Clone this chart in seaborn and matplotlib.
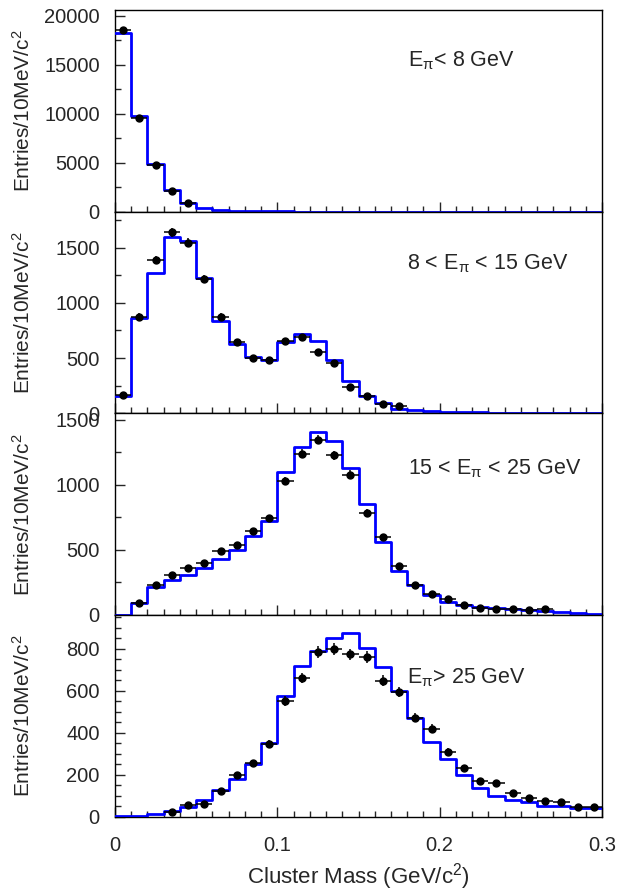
import numpy as np
import pandas as pd
import matplotlib
matplotlib.use("Agg")
import matplotlib.pyplot as plt
from matplotlib.ticker import MultipleLocator
import seaborn as sns

# 30 bins of 10 MeV/c^2 between 0 and 0.3 GeV/c^2
bin_edges = np.round(np.arange(0, 0.301, 0.01), 3)
bin_centers = bin_edges[:-1] + 0.005
nan = np.nan

# E_pi < 8 GeV
mc_lt8 = [18230, 9725, 4867, 2173, 888, 350, 140, 70, 40, 25, 18, 12, 9, 7, 5,
          4, 3, 3, 2, 2, 1, 1, 1, 1, 0, 0, 0, 0, 0, 0]
data_lt8 = [18570, 9560, 4800, 2070, 890] + [nan] * 25

# 8 < E_pi < 15 GeV
mc_8_15 = [161, 866, 1267, 1593, 1563, 1222, 839, 626, 508, 484, 644, 719, 658, 484, 294,
           158, 92, 41, 30, 22, 15, 10, 8, 6, 5, 4, 3, 2, 2, 1]
data_8_15 = [167, 875, 1388, 1638, 1544, 1213, 875, 644, 499, 484, 655, 689, 556, 454, 237,
             158, 83, 62] + [nan] * 12

# 15 < E_pi < 25 GeV
mc_15_25 = [3, 94, 214, 271, 304, 363, 432, 496, 604, 719, 1099, 1288, 1406, 1335, 1129,
            852, 560, 337, 227, 150, 98, 73, 60, 55, 47, 42, 32, 22, 15, 10]
data_15_25 = [nan, 94, 232, 304, 363, 396, 488, 540, 645, 742, 1032, 1240, 1348, 1227, 1078,
              783, 596, 378, 232, 160, 124, 73, 55, 47, 47, 35, 47, nan, nan, nan]

# E_pi > 25 GeV
mc_gt25 = [2, 4, 13, 29, 48, 80, 127, 180, 253, 350, 573, 716, 788, 851, 874,
           804, 713, 597, 470, 355, 275, 199, 138, 100, 80, 72, 53, 53, 43, 43]
data_gt25 = [nan, nan, nan, 21, 56, 62, 124, 199, 256, 346, 552, 660, 785, 799, 772,
             761, 648, 594, 470, 419, 310, 231, 170, 159, 112, 91, 76, 69, 45, 48]

panel_labels = [r"$\mathregular{E_{\pi}}$< 8 GeV",
                r"8 < $\mathregular{E_{\pi}}$ < 15 GeV",
                r"15 < $\mathregular{E_{\pi}}$ < 25 GeV",
                r"$\mathregular{E_{\pi}}$> 25 GeV"]
y_max = [20600, 1825, 1550, 960]
y_major = [5000, 500, 500, 200]
y_minor = [2500, 250, 250, 50]
label_pos = [(0.602, 0.72), (0.60, 0.715), (0.602, 0.696), (0.60, 0.659)]

sns.set_style("ticks")
plt.rcParams["font.family"] = ["Liberation Sans", "DejaVu Sans"]
plt.rcParams["mathtext.fontset"] = "custom"
plt.rcParams["mathtext.rm"] = "Liberation Sans"
plt.rcParams["mathtext.it"] = "Liberation Sans:italic"
plt.rcParams["axes.edgecolor"] = "black"
plt.rcParams["axes.linewidth"] = 1.0

fig, axes = plt.subplots(4, 1, figsize=(6.21, 8.9), dpi=100, sharex=True)
fig.subplots_adjust(left=0.1852, right=0.9694, top=0.9888, bottom=0.0824, hspace=0)

panels = zip(axes, [mc_lt8, mc_8_15, mc_15_25, mc_gt25],
             [data_lt8, data_8_15, data_15_25, data_gt25],
             panel_labels, y_max, y_major, y_minor, label_pos)
for ax, mc, data, text, ymax, maj, mnr, pos in panels:
    hist_df = pd.DataFrame({"mass": bin_centers, "entries": mc})
    # MC histogram
    sns.histplot(data=hist_df, x="mass", weights="entries", bins=list(bin_edges),
                 element="step", fill=False, color="#0000ff", linewidth=2, ax=ax, zorder=3)
    # data points
    d = np.array(data, dtype=float)
    ax.errorbar(bin_centers, d, xerr=0.005, yerr=np.sqrt(d), fmt="o", color="black",
                ms=5, elinewidth=1.1, capsize=0, zorder=4)
    ax.set_xlim(0, 0.3)
    ax.set_ylim(0, ymax)
    ax.yaxis.set_major_locator(MultipleLocator(maj))
    ax.yaxis.set_minor_locator(MultipleLocator(mnr))
    ax.xaxis.set_minor_locator(MultipleLocator(0.01))
    ax.tick_params(which="both", direction="in", top=False, right=False, labelsize=14.5)
    ax.tick_params(axis="y", pad=11)
    ax.tick_params(which="major", length=7, width=1)
    ax.tick_params(which="minor", length=4, width=1)
    ax.set_ylabel("Entries/10MeV/c$^{\\mathregular{2}}$", fontsize=15)
    ax.yaxis.set_label_coords(-0.166, 0.5)
    ax.text(pos[0], pos[1], text, transform=ax.transAxes, fontsize=15.5, va="baseline", ha="left")

axes[-1].set_xticks([0, 0.1, 0.2, 0.3], ["0", "0.1", "0.2", "0.3"])
axes[-1].set_xlabel("Cluster Mass (GeV/c$^{\\mathregular{2}}$)", fontsize=16, labelpad=4)
axes[-1].tick_params(axis="x", pad=14)

fig.savefig("out.png", dpi=100)
